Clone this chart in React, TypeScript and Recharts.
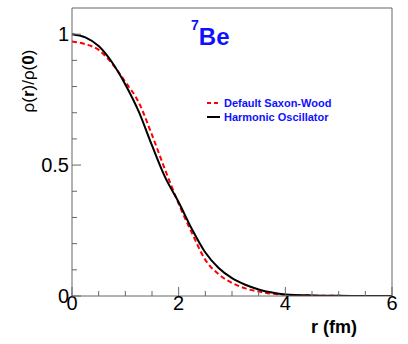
import { LineChart, Line, XAxis, YAxis, ReferenceLine } from 'recharts';

// radius (fm)
const rValues = [0, 0.25, 0.5, 0.75, 1, 1.25, 1.5, 1.75, 2, 2.25, 2.5, 2.75, 3, 3.25, 3.5, 3.75, 4, 4.5, 5, 5.5, 6];
// Harmonic Oscillator density, rho(r)/rho(0)
const hoValues = [1.0, 0.988, 0.955, 0.893, 0.808, 0.705, 0.575, 0.452, 0.358, 0.255, 0.166, 0.107, 0.068, 0.043, 0.025, 0.013, 0.006, 0.002, 0.0006, 0.0002, 0];
// Default Saxon-Wood density
const swValues = [0.972, 0.962, 0.94, 0.888, 0.818, 0.74, 0.615, 0.48, 0.352, 0.24, 0.138, 0.083, 0.05, 0.029, 0.017, 0.009, 0.005, 0.0015, 0.0005, 0.0002, 0];

const xTicks = [0, 0.5, 1, 1.5, 2, 2.5, 3, 3.5, 4, 4.5, 5, 5.5, 6];
const xLabels = [0, 2, 4, 6];
const yTicks = [0, 0.1, 0.2, 0.3, 0.4, 0.5, 0.6, 0.7, 0.8, 0.9, 1.0];
const yLabels = [0, 0.5, 1];

const legendItems = [
  { name: 'Default Saxon-Wood', color: '#ff0000', dash: '4 3' },
  { name: 'Harmonic Oscillator', color: '#000000', dash: undefined },
];

const FONT = '"Liberation Sans", Arial, Helvetica, sans-serif';
const AXIS = '#666';
const BLUE = '#1010ff';

const chartData = rValues.map((r, i) => ({ r, ho: hoValues[i], sw: swValues[i] }));

const XTick = ({ x, y, payload }: any) => {
  const major = xLabels.includes(payload.value);
  return (
    <g>
      <line x1={x} y1={y} x2={x} y2={y - (major ? 9 : 5)} stroke={AXIS} />
      {major && (
        <text x={x} y={y + 14} textAnchor="middle" fontSize={20} fontFamily={FONT} fill="#000">
          {payload.value}
        </text>
      )}
    </g>
  );
};

const YTick = ({ x, y, payload }: any) => {
  const major = yLabels.some((v) => Math.abs(v - payload.value) < 1e-6);
  return (
    <g>
      <line x1={x} y1={y} x2={x + (major ? 9 : 5)} y2={y} stroke={AXIS} />
      {major && (
        <text x={x - 3} y={y + 7} textAnchor="end" fontSize={20} fontFamily={FONT} fill="#000">
          {payload.value}
        </text>
      )}
    </g>
  );
};

export default function App() {
  return (
    <div style={{ position: 'absolute', left: 0, top: 0, background: '#fff' }}>
      <style>{'body{margin:0}'}</style>
      <LineChart width={408} height={344} data={chartData} margin={{ top: 8, right: 16, left: 0, bottom: 0 }}>
        <XAxis
          dataKey="r"
          type="number"
          domain={[0, 6]}
          ticks={xTicks}
          interval={0}
          height={48}
          tickSize={0}
          tickMargin={0}
          tickLine={false}
          stroke={AXIS}
          tick={<XTick />}
        />
        <YAxis
          type="number"
          domain={[0, 1.1]}
          ticks={yTicks}
          interval={0}
          width={72}
          tickSize={0}
          tickMargin={0}
          tickLine={false}
          stroke={AXIS}
          allowDataOverflow
          tick={<YTick />}
        />
        <ReferenceLine y={1.1} stroke={AXIS} />
        <ReferenceLine x={6} stroke={AXIS} />
        <Line type="monotone" dataKey="sw" stroke="#ff0000" strokeWidth={2} strokeDasharray="5 3" dot={false} isAnimationActive={false} />
        <Line type="monotone" dataKey="ho" stroke="#000000" strokeWidth={2} dot={false} isAnimationActive={false} />
        {legendItems.map((item, i) => (
          <g key={item.name}>
            <line x1={207} y1={103 + i * 14} x2={220} y2={103 + i * 14} stroke={item.color} strokeWidth={2} strokeDasharray={item.dash} />
            <text x={224} y={107 + i * 14} fontSize={11} fontWeight="bold" fontFamily={FONT} fill={BLUE}>
              {item.name}
            </text>
          </g>
        ))}
        <text x={357} y={333} textAnchor="end" fontSize={18} fontWeight="bold" fontFamily={FONT} fill="#000">
          r (fm)
        </text>
        <text
          x={28}
          y={81}
          transform="rotate(-90, 28, 81)"
          textAnchor="middle"
          dominantBaseline="central"
          fontSize={17}
          fontFamily={FONT}
          fill="#000"
        >
          ρ(<tspan fontWeight="bold">r</tspan>)/ρ(<tspan fontWeight="bold">0</tspan>)
        </text>
        <text x={191} y={45} fontFamily={FONT} fontWeight="bold" fill={BLUE}>
          <tspan fontSize={14} dy={-15}>7</tspan>
          <tspan fontSize={24} dy={15}>Be</tspan>
        </text>
      </LineChart>
    </div>
  );
}
